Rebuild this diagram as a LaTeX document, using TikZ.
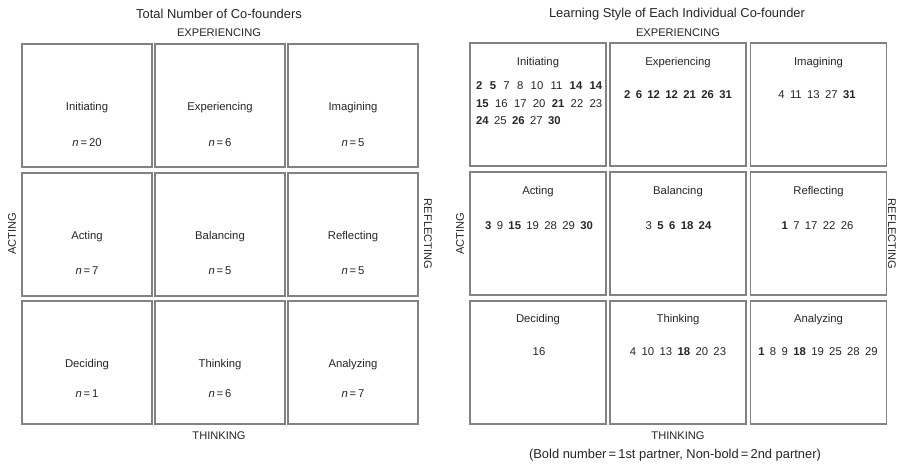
\documentclass[tikz,border=0pt]{standalone}
\usepackage{fontspec}
\setmainfont{Liberation Sans}
\definecolor{boxgray}{RGB}{130,130,130}
\definecolor{ink}{RGB}{38,38,38}
\newcommand{\bnum}[1]{\textbf{#1}}
% wider word spacing for lists of co-founder numbers
\newcommand{\numrow}[1]{\spaceskip=5.4pt\relax #1}
\begin{document}
\begin{tikzpicture}[x=1pt,y=-1pt,
  cell/.style={draw=boxgray,line width=1.4pt,inner sep=0pt,rectangle},
  leftcell/.style={cell,minimum width=130pt,minimum height=123pt},
  rightcell/.style={cell,minimum width=136pt,minimum height=123pt},
  lbl/.style={font=\fontsize{11.3}{13}\selectfont,text=ink,inner sep=0pt},
  axis/.style={font=\fontsize{11.1}{13}\selectfont,text=ink,inner sep=0pt},
  heading/.style={font=\fontsize{12.9}{15}\selectfont,text=ink,inner sep=0pt}]

\fill[white] (0,0) rectangle (904,468);

% ---------- left panel: totals ----------
\node[heading] (ltitle) at (219,14) {Total Number of Co-founders};
\node[axis] (ltop) at (219,33) {EXPERIENCING};
\node[axis] (lbottom) at (219,436) {THINKING};
\node[axis,rotate=90] (lleft) at (12,234) {ACTING};
\node[axis,rotate=-90] (lright) at (428,234) {REFLECTING};

\node[leftcell] (a11) at (87,105.5) {};
\node[leftcell] (a12) at (220,105.5) {};
\node[leftcell] (a13) at (353,105.5) {};
\node[leftcell] (a21) at (87,234.5) {};
\node[leftcell] (a22) at (220,234.5) {};
\node[leftcell] (a23) at (353,234.5) {};
\node[leftcell] (a31) at (87,362.5) {};
\node[leftcell] (a32) at (220,362.5) {};
\node[leftcell] (a33) at (353,362.5) {};

\node[lbl] (t11) at (87,108) {Initiating};
\node[lbl] (t12) at (220,108) {Experiencing};
\node[lbl] (t13) at (353,108) {Imagining};
\node[lbl] (n11) at (87,143) {\textit{n}\,=\,20};
\node[lbl] (n12) at (220,143) {\textit{n}\,=\,6};
\node[lbl] (n13) at (353,143) {\textit{n}\,=\,5};

\node[lbl] (t21) at (87,237) {Acting};
\node[lbl] (t22) at (220,237) {Balancing};
\node[lbl] (t23) at (353,237) {Reflecting};
\node[lbl] (n21) at (87,271) {\textit{n}\,=\,7};
\node[lbl] (n22) at (220,271) {\textit{n}\,=\,5};
\node[lbl] (n23) at (353,271) {\textit{n}\,=\,5};

\node[lbl] (t31) at (87,365) {Deciding};
\node[lbl] (t32) at (220,365) {Thinking};
\node[lbl] (t33) at (353,365) {Analyzing};
\node[lbl] (n31) at (87,394) {\textit{n}\,=\,1};
\node[lbl] (n32) at (220,394) {\textit{n}\,=\,6};
\node[lbl] (n33) at (353,394) {\textit{n}\,=\,7};

% ---------- right panel: individual co-founders ----------
\node[heading] (rtitle) at (677,14) {Learning Style of Each Individual Co-founder};
\node[axis] (rtop) at (678,33) {EXPERIENCING};
\node[axis] (rbottom) at (678,436) {THINKING};
\node[heading] (rnote) at (675,455) {(Bold number\,=\,1st partner, Non-bold\,=\,2nd partner)};
\node[axis,rotate=90] (rleft) at (460,234) {ACTING};
\node[axis,rotate=-90] (rright) at (892,234) {REFLECTING};

\node[rightcell] (b11) at (538,104.5) {};
\node[rightcell] (b12) at (678,104.5) {};
\node[rightcell] (b13) at (818.5,104.5) {};
\node[rightcell] (b21) at (538,233.5) {};
\node[rightcell] (b22) at (678,233.5) {};
\node[rightcell] (b23) at (818.5,233.5) {};
\node[rightcell] (b31) at (538,362.5) {};
\node[rightcell] (b32) at (678,362.5) {};
\node[rightcell] (b33) at (818.5,362.5) {};

\node[lbl] (s11) at (538,63) {Initiating};
\node[lbl] (s12) at (678,63) {Experiencing};
\node[lbl] (s13) at (818.5,63) {Imagining};
\node[lbl,anchor=west] (m11a) at (476,86)
  {\makebox[126pt][s]{\bnum{2} \bnum{5} 7 8 10 11 \bnum{14} \bnum{14}}};
\node[lbl,anchor=west] (m11b) at (476,103.5)
  {\makebox[126pt][s]{\bnum{15} 16 17 20 \bnum{21} 22 23}};
\node[lbl,anchor=west] (m11c) at (476,121) {\numrow{\bnum{24} 25 \bnum{26} 27 \bnum{30}}};
\node[lbl] (m12) at (678,95) {\numrow{\bnum{2} \bnum{6} \bnum{12} \bnum{12} \bnum{21} \bnum{26} \bnum{31}}};
\node[lbl] (m13) at (817,95) {\numrow{4 11 13 27 \bnum{31}}};

\node[lbl] (s21) at (538,192) {Acting};
\node[lbl] (s22) at (678,192) {Balancing};
\node[lbl] (s23) at (818.5,192) {Reflecting};
\node[lbl] (m21) at (539,226) {\numrow{\bnum{3} 9 \bnum{15} 19 28 29 \bnum{30}}};
\node[lbl] (m22) at (678.5,226) {\numrow{3 \bnum{5} \bnum{6} \bnum{18} \bnum{24}}};
\node[lbl] (m23) at (817.5,226) {\numrow{\bnum{1} 7 17 22 26}};

\node[lbl] (s31) at (538,320) {Deciding};
\node[lbl] (s32) at (678,320) {Thinking};
\node[lbl] (s33) at (818.5,320) {Analyzing};
\node[lbl] (m31) at (539,352) {16};
\node[lbl] (m32) at (678,352) {\numrow{4 10 13 \bnum{18} 20 23}};
\node[lbl] (m33) at (818,352) {\numrow{\bnum{1} 8 9 \bnum{18} 19 25 28 29}};
\end{tikzpicture}
\end{document}
